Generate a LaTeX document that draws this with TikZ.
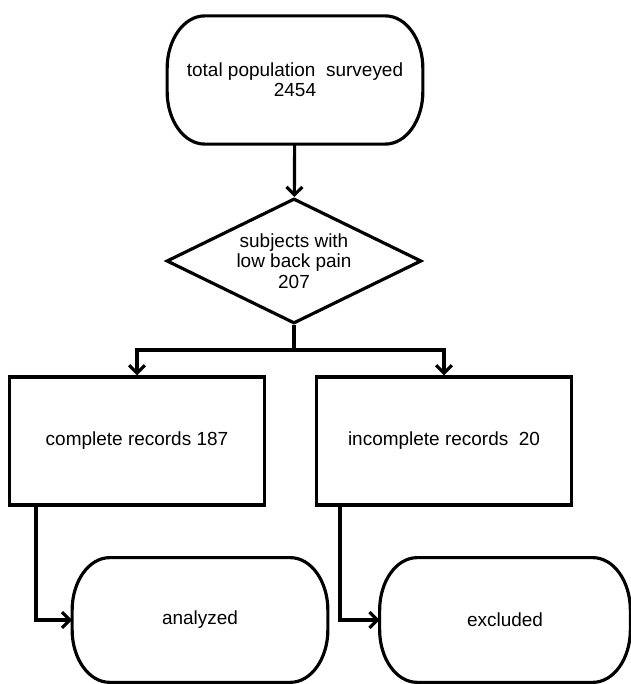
\documentclass[tikz,border=0pt]{standalone}
\usepackage{fontspec}
\setmainfont{Liberation Sans}
\usetikzlibrary{shapes.geometric,arrows.meta}

% outline of a start/end node: a box with elliptic corners
\newcommand{\drawterm}[1]{%
  \draw[line width=1.8pt]
    ([xshift=0.75cm]#1.north west) -- ([xshift=-0.75cm]#1.north east)
    arc[start angle=90, end angle=0, x radius=0.75cm, y radius=1.05cm]
    -- ([yshift=1.05cm]#1.south east)
    arc[start angle=0, end angle=-90, x radius=0.75cm, y radius=1.05cm]
    -- ([xshift=0.75cm]#1.south west)
    arc[start angle=270, end angle=180, x radius=0.75cm, y radius=1.05cm]
    -- ([yshift=-1.05cm]#1.north west)
    arc[start angle=180, end angle=90, x radius=0.75cm, y radius=1.05cm] -- cycle;}

\begin{document}
\begin{tikzpicture}[
  every node/.style={font=\fontsize{10.8}{11.6}\selectfont, align=center},
  term/.style={rectangle, minimum width=5.1cm, minimum height=2.55cm, inner sep=0pt},
  decide/.style={diamond, draw, line width=1.8pt, aspect=2, inner sep=0pt,
    minimum width=5.1cm, minimum height=2.5cm},
  recbox/.style={rectangle, draw, line width=1.8pt, minimum width=5.1cm, minimum height=2.56cm},
  arr/.style={-{Straight Barb[length=4.5pt,width=9pt]}, line width=1.8pt}
]
  \useasboundingbox (0,0) rectangle (12.62,13.68);

  % Start and decision
  \node[term] (tpop) at (5.9, 12.08) {total population\ \ surveyed\\2454};
  \node[decide] (lbp) at (5.88, 8.46) {subjects with\\low back pain\\207};

  % Records
  \node[recbox] (crec) at (2.74, 4.86) {complete records 187};
  \node[recbox] (irec) at (8.88, 4.86) {incomplete records\ \ 20};

  % End points
  \node[term, minimum height=2.48cm] (anl) at (4.0, 1.28) {analyzed};
  \node[term, minimum width=5.0cm, minimum height=2.48cm] (exc) at (10.1, 1.28) {excluded};

  \drawterm{tpop}
  \drawterm{anl}
  \drawterm{exc}

  % Connections
  \coordinate (fork) at (5.88, 6.68);
  \draw[arr] (tpop) -- (lbp);
  \draw[line width=1.8pt] (lbp.south) -- (fork);
  \draw[arr] (fork) -| (crec.north);
  \draw[arr] (fork) -| (irec.north);
  \draw[arr] ([xshift=0.56cm]crec.south west) |- (anl.west);
  \draw[arr] ([xshift=0.5cm]irec.south west) |- (exc.west);
\end{tikzpicture}
\end{document}
